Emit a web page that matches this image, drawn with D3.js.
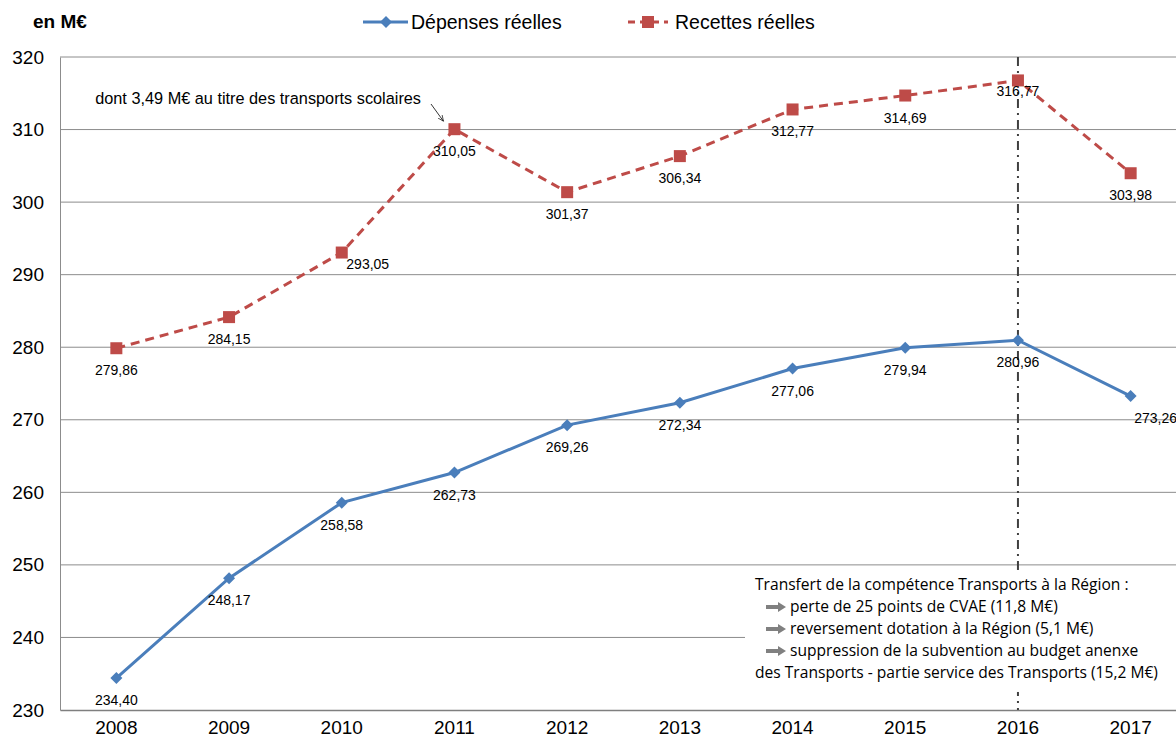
<!DOCTYPE html>
<html>
<head>
<meta charset="utf-8">
<script src="https://cdn.jsdelivr.net/npm/d3@7"></script>
<style>
  body { margin: 0; background: #fff; }
  svg { font-family: "Liberation Sans", Arial, sans-serif; }
</style>
</head>
<body>
<div id="chart"></div>
<script>
// Data
var years = ["2008", "2009", "2010", "2011", "2012", "2013", "2014", "2015", "2016", "2017"];
var depenses = [234.40, 248.17, 258.58, 262.73, 269.26, 272.34, 277.06, 279.94, 280.96, 273.26];
var recettes = [279.86, 284.15, 293.05, 310.05, 301.37, 306.34, 312.77, 314.69, 316.77, 303.98];
var yTicks = [230, 240, 250, 260, 270, 280, 290, 300, 310, 320];
var noteLines = [
  "Transfert de la compétence Transports à la Région :",
  "perte de 25 points de CVAE (11,8 M€)",
  "reversement dotation à la Région (5,1 M€)",
  "suppression de la subvention au budget anenxe",
  "des Transports - partie service des Transports (15,2 M€)"
];

var FONT = "'Liberation Sans', Arial, sans-serif";

var svgWidth = 1176;
var svgHeight = 742;
var margin = { top: 57, right: -11, bottom: 32, left: 60 };
var chartWidth = svgWidth - margin.left - margin.right;
var chartHeight = svgHeight - margin.top - margin.bottom;

var svg = d3.select("#chart")
  .append("svg")
  .attr("width", svgWidth)
  .attr("height", svgHeight)
  .attr("font-family", FONT);

var g = svg.append("g")
  .attr("transform", `translate(${margin.left}, ${margin.top})`);

var xScale = d3.scaleBand()
  .domain(years)
  .range([0, chartWidth]);

var yScale = d3.scaleLinear()
  .domain([230, 320])
  .range([chartHeight, 0]);

var xc = d => xScale(d) + xScale.bandwidth() / 2;

// gridlines
g.selectAll(".grid")
  .data(yTicks.slice(1))
  .enter()
  .append("line")
  .attr("x1", 0)
  .attr("x2", chartWidth)
  .attr("y1", d => yScale(d))
  .attr("y2", d => yScale(d))
  .attr("stroke", "#8c8c8c")
  .attr("stroke-width", 1);

// y axis
var leftAxis = d3.axisLeft(yScale).tickValues(yTicks).tickSize(0).tickPadding(16);
var ya = g.append("g").call(leftAxis).attr("font-family", FONT);
ya.select(".domain").attr("stroke", "#8c8c8c");
ya.selectAll("text").attr("font-size", 19).attr("fill", "#000");

// x axis
var bottomAxis = d3.axisBottom(xScale).tickSize(0).tickPadding(11);
var xa = g.append("g")
  .attr("transform", `translate(0, ${chartHeight})`)
  .call(bottomAxis)
  .attr("font-family", FONT);
xa.select(".domain").attr("stroke", "#7f7f7f").attr("stroke-width", 1.5);
xa.selectAll("text").attr("font-size", 19).attr("fill", "#000");

// vertical dash-dot line at 2016
g.append("line")
  .attr("x1", xc("2016"))
  .attr("x2", xc("2016"))
  .attr("y1", 0)
  .attr("y2", chartHeight)
  .attr("stroke", "#404040")
  .attr("stroke-width", 2)
  .attr("stroke-dasharray", "9,5,2,5");

// annotation box
var box = g.append("g").attr("transform", `translate(685, ${yScale(249.3)})`);
box.append("rect")
  .attr("x", 0)
  .attr("y", 0)
  .attr("width", 500)
  .attr("height", 122)
  .attr("fill", "#fff");

var arrowLines = [1, 2, 3];
box.selectAll(".note")
  .data(noteLines)
  .enter()
  .append("text")
  .attr("x", (d, i) => (i === 0 || i === 4) ? 10 : 45)
  .attr("y", (d, i) => 20 + i * 22)
  .attr("font-family", "'Open Sans', Calibri, sans-serif")
  .attr("font-size", 15.6)
  .attr("fill", "#000")
  .text(d => d);

box.selectAll(".arr")
  .data(arrowLines)
  .enter()
  .append("path")
  .attr("d", i => {
    var y = 20 + i * 22 - 5;
    return `M21,${y - 2} L33,${y - 2} L33,${y - 5} L41,${y} L33,${y + 5} L33,${y + 2} L21,${y + 2} Z`;
  })
  .attr("fill", "#808080");

// lines
var lineGen = d3.line()
  .x((d, i) => xc(years[i]))
  .y(d => yScale(d));

g.append("path")
  .datum(depenses)
  .attr("d", lineGen)
  .attr("fill", "none")
  .attr("stroke", "#4a7ebb")
  .attr("stroke-width", 3);

g.append("path")
  .datum(recettes)
  .attr("d", lineGen)
  .attr("fill", "none")
  .attr("stroke", "#be4b48")
  .attr("stroke-width", 3)
  .attr("stroke-dasharray", "9,6");

// markers
g.selectAll(".dia")
  .data(depenses)
  .enter()
  .append("path")
  .attr("d", "M0,-6 L6,0 L0,6 L-6,0 Z")
  .attr("transform", (d, i) => `translate(${xc(years[i])}, ${yScale(d)})`)
  .attr("fill", "#4a7ebb");

g.selectAll(".sq")
  .data(recettes)
  .enter()
  .append("rect")
  .attr("x", (d, i) => xc(years[i]) - 6)
  .attr("y", d => yScale(d) - 6)
  .attr("width", 12)
  .attr("height", 12)
  .attr("fill", "#be4b48");

// data labels
var fmt = d => d3.format(".2f")(d).replace(".", ",");

g.selectAll(".dl")
  .data(depenses)
  .enter()
  .append("text")
  .attr("x", (d, i) => xc(years[i]) + (i === 9 ? 25 : 0))
  .attr("y", d => yScale(d) + 27)
  .attr("text-anchor", "middle")
  .attr("font-size", 14)
  .attr("fill", "#000")
  .text(d => fmt(d));

g.selectAll(".rl")
  .data(recettes)
  .enter()
  .append("text")
  .attr("x", (d, i) => xc(years[i]) + (i === 2 ? 26 : 0))
  .attr("y", (d, i) => yScale(d) + (i === 2 ? 16 : (i === 8 ? 16 : 27)))
  .attr("text-anchor", "middle")
  .attr("font-size", 14)
  .attr("fill", "#000")
  .text(d => fmt(d));

// annotation for 2011
g.append("text")
  .attr("x", 421 - margin.left)
  .attr("y", 104 - margin.top)
  .attr("text-anchor", "end")
  .attr("font-size", 16.3)
  .attr("fill", "#000")
  .text("dont 3,49 M€ au titre des transports scolaires");

svg.append("defs").append("marker")
  .attr("id", "ah")
  .attr("viewBox", "0 0 10 10")
  .attr("refX", 9).attr("refY", 5)
  .attr("markerWidth", 8).attr("markerHeight", 8)
  .attr("orient", "auto")
  .append("path")
  .attr("d", "M0,1 L9,5 L0,9")
  .attr("fill", "none")
  .attr("stroke", "#000");

g.append("line")
  .attr("x1", 431 - margin.left)
  .attr("y1", 104 - margin.top)
  .attr("x2", xc("2011") - 11)
  .attr("y2", yScale(310.05) - 8)
  .attr("stroke", "#000")
  .attr("stroke-width", 0.8)
  .attr("marker-end", "url(#ah)");

// title
svg.append("text")
  .attr("x", 33)
  .attr("y", 28)
  .attr("font-size", 19)
  .attr("font-weight", "bold")
  .text("en M€");

// legend
var leg = svg.append("g");
leg.append("line").attr("x1", 363).attr("x2", 408).attr("y1", 22).attr("y2", 22)
  .attr("stroke", "#4a7ebb").attr("stroke-width", 3);
leg.append("path").attr("d", "M0,-6 L6,0 L0,6 L-6,0 Z")
  .attr("transform", "translate(386,22)").attr("fill", "#4a7ebb");
leg.append("text").attr("x", 411).attr("y", 29).attr("font-size", 19.5).text("Dépenses réelles");

leg.append("line").attr("x1", 628).attr("x2", 668).attr("y1", 22).attr("y2", 22)
  .attr("stroke", "#be4b48").attr("stroke-width", 3).attr("stroke-dasharray", "7,5");
leg.append("rect").attr("x", 642).attr("y", 16).attr("width", 12).attr("height", 12)
  .attr("fill", "#be4b48");
leg.append("text").attr("x", 675).attr("y", 29).attr("font-size", 19.5).text("Recettes réelles");
</script>
</body>
</html>
